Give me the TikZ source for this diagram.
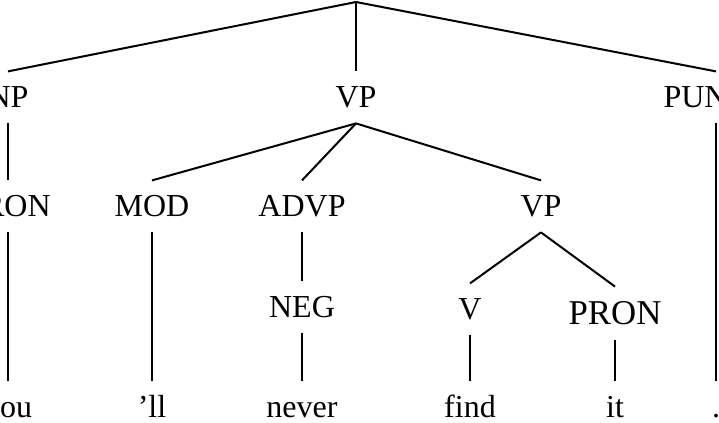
\documentclass[tikz,border=0pt]{standalone}
\usepackage{fontspec}
\setmainfont{Liberation Serif}

\begin{document}
\begin{tikzpicture}[x=0.5pt, y=0.5pt,
	cat/.style={anchor=base, inner xsep=0pt, inner ysep=7.5pt, text height=10.6pt, text depth=0pt, font=\fontsize{16}{19}\selectfont},
	bigcat/.style={cat, text height=11.5pt, font=\fontsize{17.4}{20}\selectfont},
	branch/.style={line width=1pt}]
	\useasboundingbox (0,0) rectangle (719,423);
	\clip (0,0) rectangle (719,423);
	% top of the tree (label cut off)
	\coordinate (root) at (356,421);
	% phrase level
	\node[cat] (np) at (8,315) {NP};
	\node[cat] (vp) at (356,315) {VP};
	\node[cat] (punct) at (716,315) {PUNCT};
	\node[cat] (pronA) at (8,206) {PRON};
	\node[cat] (mod) at (152,206) {MOD};
	\node[cat] (advp) at (302,206) {ADVP};
	\node[cat] (vpB) at (541,206) {VP};
	\node[cat] (neg) at (302,105) {NEG};
	\node[cat] (verb) at (470,103) {V};
	\node[bigcat] (pronB) at (615,98) {PRON};
	% words
	\node[cat] (you) at (8,5) {you};
	\node[cat] (ll) at (152,5) {'ll};
	\node[cat] (never) at (302,5) {never};
	\node[cat] (find) at (470,5) {find};
	\node[cat] (it) at (615,5) {it};
	\node[cat] (dot) at (716,5) {.};
	% branches
	\foreach \b in {np,vp,punct}
		\draw[branch] (root) -- (\b.north);
	\foreach \a/\b in {np/pronA, vp/mod, vp/advp, vp/vpB, advp/neg, vpB/verb, vpB/pronB,
			pronA/you, mod/ll, neg/never, verb/find, pronB/it, punct/dot}
		\draw[branch] (\a.south) -- (\b.north);
\end{tikzpicture}
\end{document}
